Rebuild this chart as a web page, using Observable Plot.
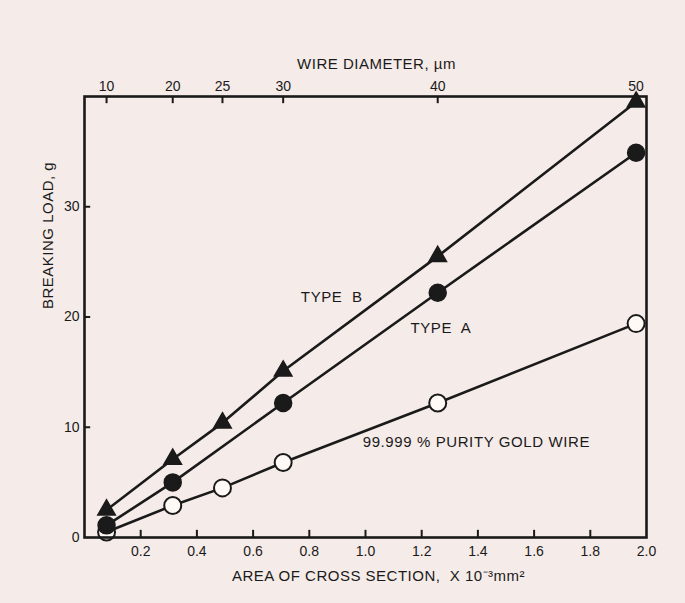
<!DOCTYPE html>
<html>
<head>
<meta charset="utf-8">
<script src="https://cdn.jsdelivr.net/npm/d3@7"></script>
<script src="https://cdn.jsdelivr.net/npm/@observablehq/plot@0.6"></script>
<style>
  html, body { margin: 0; padding: 0; background: #f5ebe8; }
  #chart { width: 685px; height: 603px; }
</style>
</head>
<body>
<div id="chart"></div>
<script>
// Wire diameters (µm) and corresponding cross-section areas (×10^-3 mm²)
const diameters = [10, 20, 25, 30, 40, 50];
const areas = [0.0785, 0.314, 0.491, 0.707, 1.257, 1.963];

// Breaking load (g)
const typeBLoad = [2.5, 7.1, 10.4, 15.1, 25.5, 39.5];      // triangles
const typeAAreas = [0.0785, 0.314, 0.707, 1.257, 1.963];
const typeALoad = [1.1, 5.0, 12.2, 22.2, 34.9];            // filled circles
const goldLoad = [0.5, 2.9, 4.5, 6.8, 12.2, 19.4];          // open circles

const xTicks = [0.2, 0.4, 0.6, 0.8, 1.0, 1.2, 1.4, 1.6, 1.8, 2.0];
const xInnerTicks = [0.2, 0.4, 0.6, 0.8, 1.0, 1.2, 1.4, 1.6, 1.8];
const yTicks = [0, 10, 20, 30];
const yInnerTicks = [10, 20, 30];

const labels = [
  {text: "TYPE  B", x: 0.77, y: 21.8},
  {text: "TYPE  A", x: 1.16, y: 19.0},
  {text: "99.999 % PURITY GOLD WIRE", x: 0.99, y: 8.6}
];

const typeB = areas.map((a, i) => ({x: a, y: typeBLoad[i]}));
const typeA = typeAAreas.map((a, i) => ({x: a, y: typeALoad[i]}));
const gold = areas.map((a, i) => ({x: a, y: goldLoad[i]}));
const diamByArea = new Map(areas.map((a, i) => [a, diameters[i]]));

const ink = "#1a1a1a";
const font = "Liberation Sans, Arial, sans-serif";

const chart = Plot.plot({
  width: 685,
  height: 603,
  marginLeft: 84,
  marginRight: 39,
  marginTop: 96,
  marginBottom: 66,
  style: {background: "#f5ebe8", fontFamily: font, fontSize: "14px", color: ink},
  x: {domain: [0, 2.0]},
  y: {domain: [0, 40]},
  marks: [
    // bottom axis labels
    Plot.axisX(xTicks, {anchor: "bottom", tickSize: 0, tickPadding: 9, tickFormat: d3.format(".1f"), label: null, fill: ink, fontSize: 14}),
    // top axis labels (wire diameter)
    Plot.axisX(areas, {anchor: "top", tickSize: 0, tickPadding: 6, tickFormat: d => String(diamByArea.get(d)), label: null, fill: ink, fontSize: 14}),
    // left axis labels
    Plot.axisY(yTicks, {anchor: "left", tickSize: 0, tickPadding: 5, label: null, fill: ink, fontSize: 14}),
    // inward ticks
    Plot.ruleX(xInnerTicks, {x: d => d, y1: 0, y2: 0.65, stroke: ink, strokeWidth: 2}),
    Plot.ruleX(areas, {x: d => d, y1: 40, y2: 39.35, stroke: ink, strokeWidth: 2}),
    Plot.ruleY(yInnerTicks, {y: d => d, x1: 0, x2: 0.022, stroke: ink, strokeWidth: 2}),
    // axis titles
    Plot.text(["WIRE DIAMETER, \u00b5m"], {frameAnchor: "top", dx: 11, dy: -38, fill: ink, fontSize: 15, className: "ttl"}),
    Plot.text(["AREA OF CROSS SECTION,  X 10\u207b\u00b3mm\u00b2"], {frameAnchor: "bottom", dx: 13, dy: 43, fill: ink, fontSize: 15, className: "ttl"}),
    Plot.text(["BREAKING LOAD, g"], {frameAnchor: "left", rotate: -90, dx: -36, dy: -8, fill: ink, fontSize: 15, className: "ttl"}),
    // lines
    Plot.line(gold, {x: "x", y: "y", stroke: ink, strokeWidth: 2.6}),
    Plot.line(typeA, {x: "x", y: "y", stroke: ink, strokeWidth: 2.6}),
    Plot.line(typeB, {x: "x", y: "y", stroke: ink, strokeWidth: 2.6}),
    // markers
    Plot.dot(gold, {x: "x", y: "y", r: 8.5, fill: "#fffaf6", stroke: ink, strokeWidth: 2}),
    Plot.dot(typeA, {x: "x", y: "y", r: 8.5, fill: ink, stroke: ink}),
    Plot.dot(typeB, {x: "x", y: "y", r: 6.5, symbol: "triangle", fill: ink, stroke: ink}),
    // curve labels
    Plot.text(labels, {x: "x", y: "y", text: "text", textAnchor: "start", fill: ink, fontSize: 15, className: "lbl"}),
    Plot.frame({stroke: ink, strokeWidth: 2.6})
  ]
});
d3.select(chart).selectAll(".ttl text").style("letter-spacing", "0.5px");
d3.select(chart).selectAll(".lbl text").style("letter-spacing", "0.6px");
document.getElementById("chart").appendChild(chart);
</script>
</body>
</html>
